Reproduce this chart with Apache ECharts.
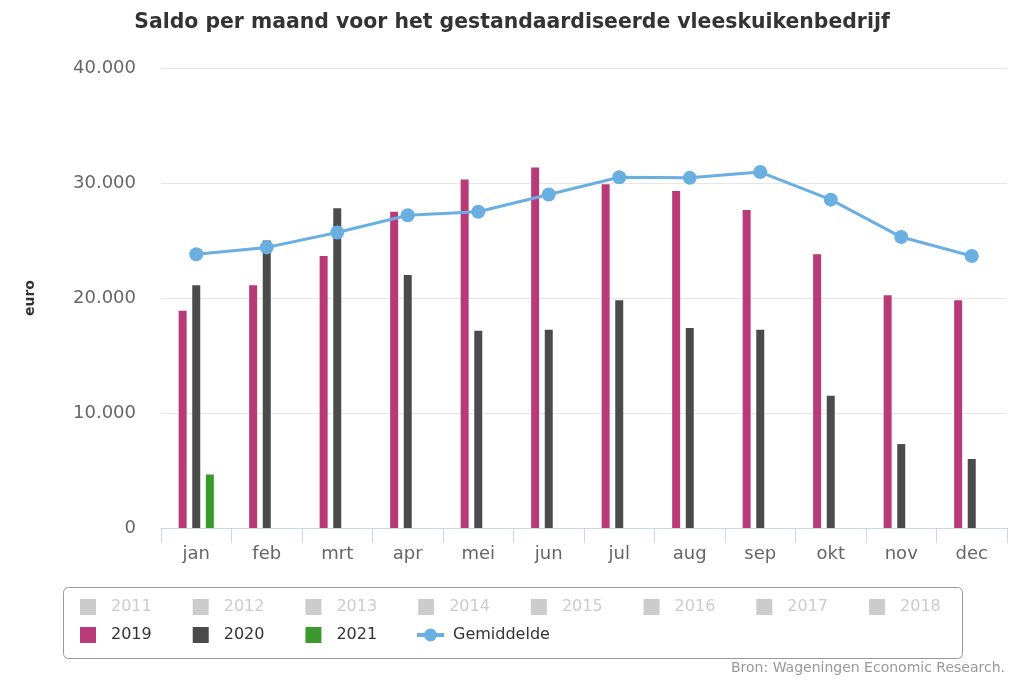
<!DOCTYPE html>
<html>
<head>
<meta charset="utf-8">
<script src="https://cdn.jsdelivr.net/npm/echarts@6/dist/echarts.min.js"></script>
<style>
html,body{margin:0;padding:0;background:#fff;}
#chart{width:1024px;height:683px;}
</style>
</head>
<body>
<div id="chart"></div>
<script>
const months = ['jan','feb','mrt','apr','mei','jun','jul','aug','sep','okt','nov','dec'];
const hiddenYears = ['2011','2012','2013','2014','2015','2016','2017','2018'];
const saldo2019 = [18900, 21100, 23650, 27500, 30300, 31350, 29900, 29300, 27650, 23800, 20250, 19800];
const saldo2020 = [21100, 25000, 27800, 22000, 17150, 17250, 19800, 17400, 17250, 11500, 7300, 6000];
const saldo2021 = [4650, null, null, null, null, null, null, null, null, null, null, null];
const gemiddelde = [23800, 24400, 25700, 27200, 27500, 29000, 30500, 30450, 30950, 28550, 25300, 23650];
const yTicks = [0, 10000, 20000, 30000, 40000];

const FONT = 'DejaVu Sans';
const selected = {};
hiddenYears.forEach(y => selected[y] = false);

const hiddenColors = ['#7cb5ec','#90ed7d','#f7a35c','#8085e9','#f15c80','#e4d354','#2b908f','#f45b5b'];

const series = hiddenYears.map((y, i) => ({
  name: y, type: 'bar', data: [], itemStyle: {color: hiddenColors[i]},
  barWidth: 8, barGap: '70%'
}));
series.push({name:'2019', type:'bar', data: saldo2019, itemStyle:{color:'#b83b77'}, barWidth: 8, barGap:'70%'});
series.push({name:'2020', type:'bar', data: saldo2020, itemStyle:{color:'#4b4b4b'}, barWidth: 8, barGap:'70%'});
series.push({name:'2021', type:'bar', data: saldo2021, itemStyle:{color:'#3a9a2c'}, barWidth: 8, barGap:'70%'});
series.push({name:'Gemiddelde', type:'line', data: gemiddelde, symbol:'circle', symbolSize: 14,
  lineStyle:{color:'#6aafe1', width:3}, itemStyle:{color:'#6aafe1'}, z: 5});

function fmt(v){ return String(v).replace(/\B(?=(\d{3})+(?!\d))/g, '.'); }

const legendCommon = {
  orient: 'horizontal', padding: 0,
  icon: 'rect',
  itemWidth: 16, itemHeight: 16, itemGap: 41,
  selected: selected,
  inactiveColor: '#cccccc',
  textStyle: {fontFamily: FONT, fontSize: 16, color: '#333', padding: [0,0,0,10]}
};

const chart = echarts.init(document.getElementById('chart'), null, {renderer:'canvas'});
chart.setOption({
  animation: false,
  backgroundColor: '#fff',
  title: {
    text: 'Saldo per maand voor het gestandaardiseerde vleeskuikenbedrijf',
    left: 'center', top: 8,
    textStyle: {fontFamily: FONT, fontSize: 20.4, fontWeight: 'bold', color: '#333'}
  },
  grid: {left: 161, right: 17, top: 68, bottom: 155},
  legend: [
    Object.assign({}, legendCommon, {left: 80, top: 599, data: hiddenYears}),
    Object.assign({}, legendCommon, {left: 80, top: 627, data: ['2019','2020','2021']}),
    Object.assign({}, legendCommon, {left: 415, top: 627, itemWidth: 27, icon: null,
      lineStyle: {width: 4},
      textStyle: {fontFamily: FONT, fontSize: 16, color: '#333', padding: [0,0,0,4]},
      data: ['Gemiddelde']})
  ],
  xAxis: {
    type: 'category', data: months,
    axisLine: {lineStyle: {color: '#ccd6eb', width: 1}},
    axisTick: {show: true, length: 15, lineStyle: {color: '#ccd6eb'}},
    axisLabel: {fontFamily: FONT, fontSize: 18, color: '#666', margin: 17}
  },
  yAxis: {
    type: 'value', min: 0, max: 40000, interval: 10000,
    name: 'euro', nameLocation: 'middle', nameGap: 124, nameRotate: 90,
    nameTextStyle: {fontFamily: FONT, fontSize: 14, fontWeight: 'bold', color: '#333'},
    axisLine: {show: false}, axisTick: {show: false},
    splitLine: {lineStyle: {color: '#e6e6e6', width: 1}},
    axisLabel: {fontFamily: FONT, fontSize: 18, color: '#666', margin: 25,
      formatter: v => yTicks.includes(v) ? fmt(v) : ''}
  },
  graphic: [
    {type:'rect', left: 61, top: 585, shape:{width: 899, height: 71, r: 5},
      style:{fill:'none', stroke:'#999', lineWidth:1}, z: -1, silent: true},
    {type:'text', right: 19, top: 661, style:{text:'Bron: Wageningen Economic Research.',
      fontFamily: FONT, fontSize: 14, fill: '#999'}}
  ],
  series: series
});
</script>
</body>
</html>
